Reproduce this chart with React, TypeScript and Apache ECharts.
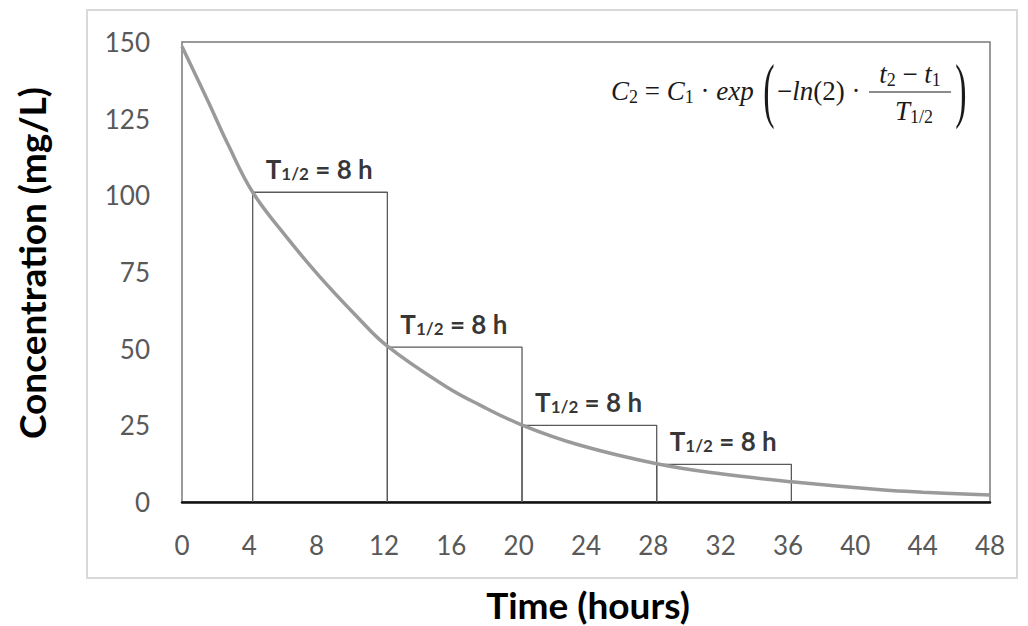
import React, { useEffect, useRef } from "react";
import * as echarts from "echarts";

// Curve points: [time (h), concentration (mg/L)]
const curveTimes = [0, 1.56, 2.75, 4.2, 6.12, 8.1, 10.3, 12.2, 15.7, 17.7, 20.2, 23.6, 28.2, 32, 36.2, 41.7, 44, 48];
const curveValues = [148.5, 130.5, 116.4, 101, 87, 74, 61, 50.8, 37.6, 31.6, 25.1, 18.6, 12.5, 9.2, 6.6, 3.9, 3.2, 2.3];

// Half-life boxes
const boxStart = [4.2, 12.2, 20.2, 28.2];
const boxEnd = [12.2, 20.2, 28.2, 36.2];
const boxHeight = [101, 50.5, 25, 12.3];

const xTicks = [0, 4, 8, 12, 16, 20, 24, 28, 32, 36, 40, 44, 48];
const yTicks = [0, 25, 50, 75, 100, 125, 150];

export default function App() {
  const ref = useRef<HTMLDivElement>(null);
  useEffect(() => {
    if (!ref.current) return;
    const chart = echarts.init(ref.current, undefined, { renderer: "svg" });
    const font = "Lato";
    const boxSeries = boxStart.map((s, i) => ({
      type: "line",
      name: "box" + i,
      data: [
        [s, 0],
        [s, boxHeight[i]],
        [boxEnd[i], boxHeight[i]],
        [boxEnd[i], 0],
      ],
      symbol: "none",
      lineStyle: { color: "#5a5a5a", width: 1.3 },
      z: 2,
      silent: true,
    }));
    const labelSeries = {
      type: "scatter",
      symbolSize: 0,
      data: boxStart.map((s, i) => [s, boxHeight[i]]),
      label: {
        show: true,
        position: [13, -40],
        align: "left",
        formatter: () => "{a|T}{b|1/2}{a| = 8 h}",
        rich: {
          a: { fontFamily: font, fontWeight: "bold", fontSize: 26, color: "#000", verticalAlign: "bottom", lineHeight: 30 },
          b: { fontFamily: font, fontWeight: "bold", fontSize: 17, color: "#000", verticalAlign: "bottom", lineHeight: 27 },
        },
      },
      z: 5,
      silent: true,
    };
    const mathFont = "Liberation Serif";
    const ink = "#1a1a1a";
    const italic = { fontFamily: mathFont, fontStyle: "italic", fontSize: 27, fill: ink };
    const normal = { fontFamily: mathFont, fontSize: 27, fill: ink };
    const sub = { fontFamily: mathFont, fontSize: 18, fill: ink, padding: [11, 0, 0, 0] };
    const option: any = {
      animation: false,
      backgroundColor: "#ffffff",
      grid: {
        left: 182,
        top: 42,
        right: 38,
        bottom: 124,
        show: true,
        borderColor: "#7a7a7a",
        borderWidth: 1.5,
      },
      xAxis: {
        type: "value",
        min: 0,
        max: 48,
        interval: 4,
        axisLine: { show: true, onZero: false, lineStyle: { color: "#111", width: 2.5 } },
        axisTick: { show: false },
        splitLine: { show: false },
        axisLabel: {
          color: "#595959",
          fontFamily: font,
          fontSize: 26,
          margin: 30,
          formatter: (v: number) => (xTicks.includes(v) ? String(v) : ""),
        },
      },
      yAxis: {
        type: "value",
        min: 0,
        max: 150,
        interval: 25,
        axisLine: { show: false },
        axisTick: { show: false },
        splitLine: { show: false },
        axisLabel: {
          color: "#595959",
          fontFamily: font,
          fontSize: 26,
          margin: 32,
          formatter: (v: number) => (yTicks.includes(v) ? String(v) : ""),
        },
      },
      series: [
        ...boxSeries,
        {
          type: "line",
          name: "curve",
          data: curveTimes.map((t, i) => [t, curveValues[i]]),
          smooth: 0.4,
          symbol: "none",
          lineStyle: { color: "#9a9a9a", width: 3.5 },
          z: 3,
          silent: true,
        },
        labelSeries,
      ],
      graphic: [
        {
          type: "rect",
          shape: { x: 87, y: 10, width: 930, height: 568 },
          style: { fill: "none", stroke: "#d9d9d9", lineWidth: 2 },
          z: -1,
          silent: true,
        },
        {
          type: "text",
          x: 31,
          y: 263,
          rotation: Math.PI / 2,
          style: {
            text: "Concentration (mg/L)",
            fontFamily: font,
            fontWeight: "bold",
            fontSize: 37,
            fill: "#000",
            align: "center",
            verticalAlign: "middle",
          },
        },
        {
          type: "text",
          x: 588,
          y: 604,
          style: {
            text: "Time (hours)",
            fontFamily: font,
            fontWeight: "bold",
            fontSize: 37,
            fill: "#000",
            align: "center",
            verticalAlign: "middle",
          },
        },
        // Formula
        {
          type: "text",
          x: 611,
          y: 91,
          style: {
            text: "{i|C}{s|2}{n| = }{i|C}{s|1}{n| · }{i|exp}",
            verticalAlign: "middle",
            rich: { i: italic, n: normal, s: sub },
          },
        },
        {
          type: "text",
          x: 769,
          y: 90,
          scaleY: 2.1,
          style: { text: "(", fontFamily: mathFont, fontSize: 34, fill: ink, align: "center", verticalAlign: "middle" },
        },
        {
          type: "text",
          x: 777,
          y: 91,
          style: {
            text: "{n|−}{i|ln}{n|(2) · }",
            verticalAlign: "middle",
            rich: { i: italic, n: normal },
          },
        },
        {
          type: "text",
          x: 910,
          y: 74,
          style: {
            text: "{i|t}{s|2}{n| − }{i|t}{s|1}",
            align: "center",
            verticalAlign: "middle",
            rich: { i: italic, n: normal, s: sub },
          },
        },
        {
          type: "line",
          shape: { x1: 869, y1: 92, x2: 951, y2: 92 },
          style: { stroke: ink, lineWidth: 1.2 },
        },
        {
          type: "text",
          x: 914,
          y: 111,
          style: {
            text: "{i|T}{s|1/2}",
            align: "center",
            verticalAlign: "middle",
            rich: { i: italic, s: sub },
          },
        },
        {
          type: "text",
          x: 961,
          y: 90,
          scaleY: 2.1,
          style: { text: ")", fontFamily: mathFont, fontSize: 34, fill: ink, align: "center", verticalAlign: "middle" },
        },
      ],
    };
    chart.setOption(option);
    return () => chart.dispose();
  }, []);
  return <div ref={ref} style={{ width: 1028, height: 626, position: "absolute", left: 0, top: 0 }} />;
}
